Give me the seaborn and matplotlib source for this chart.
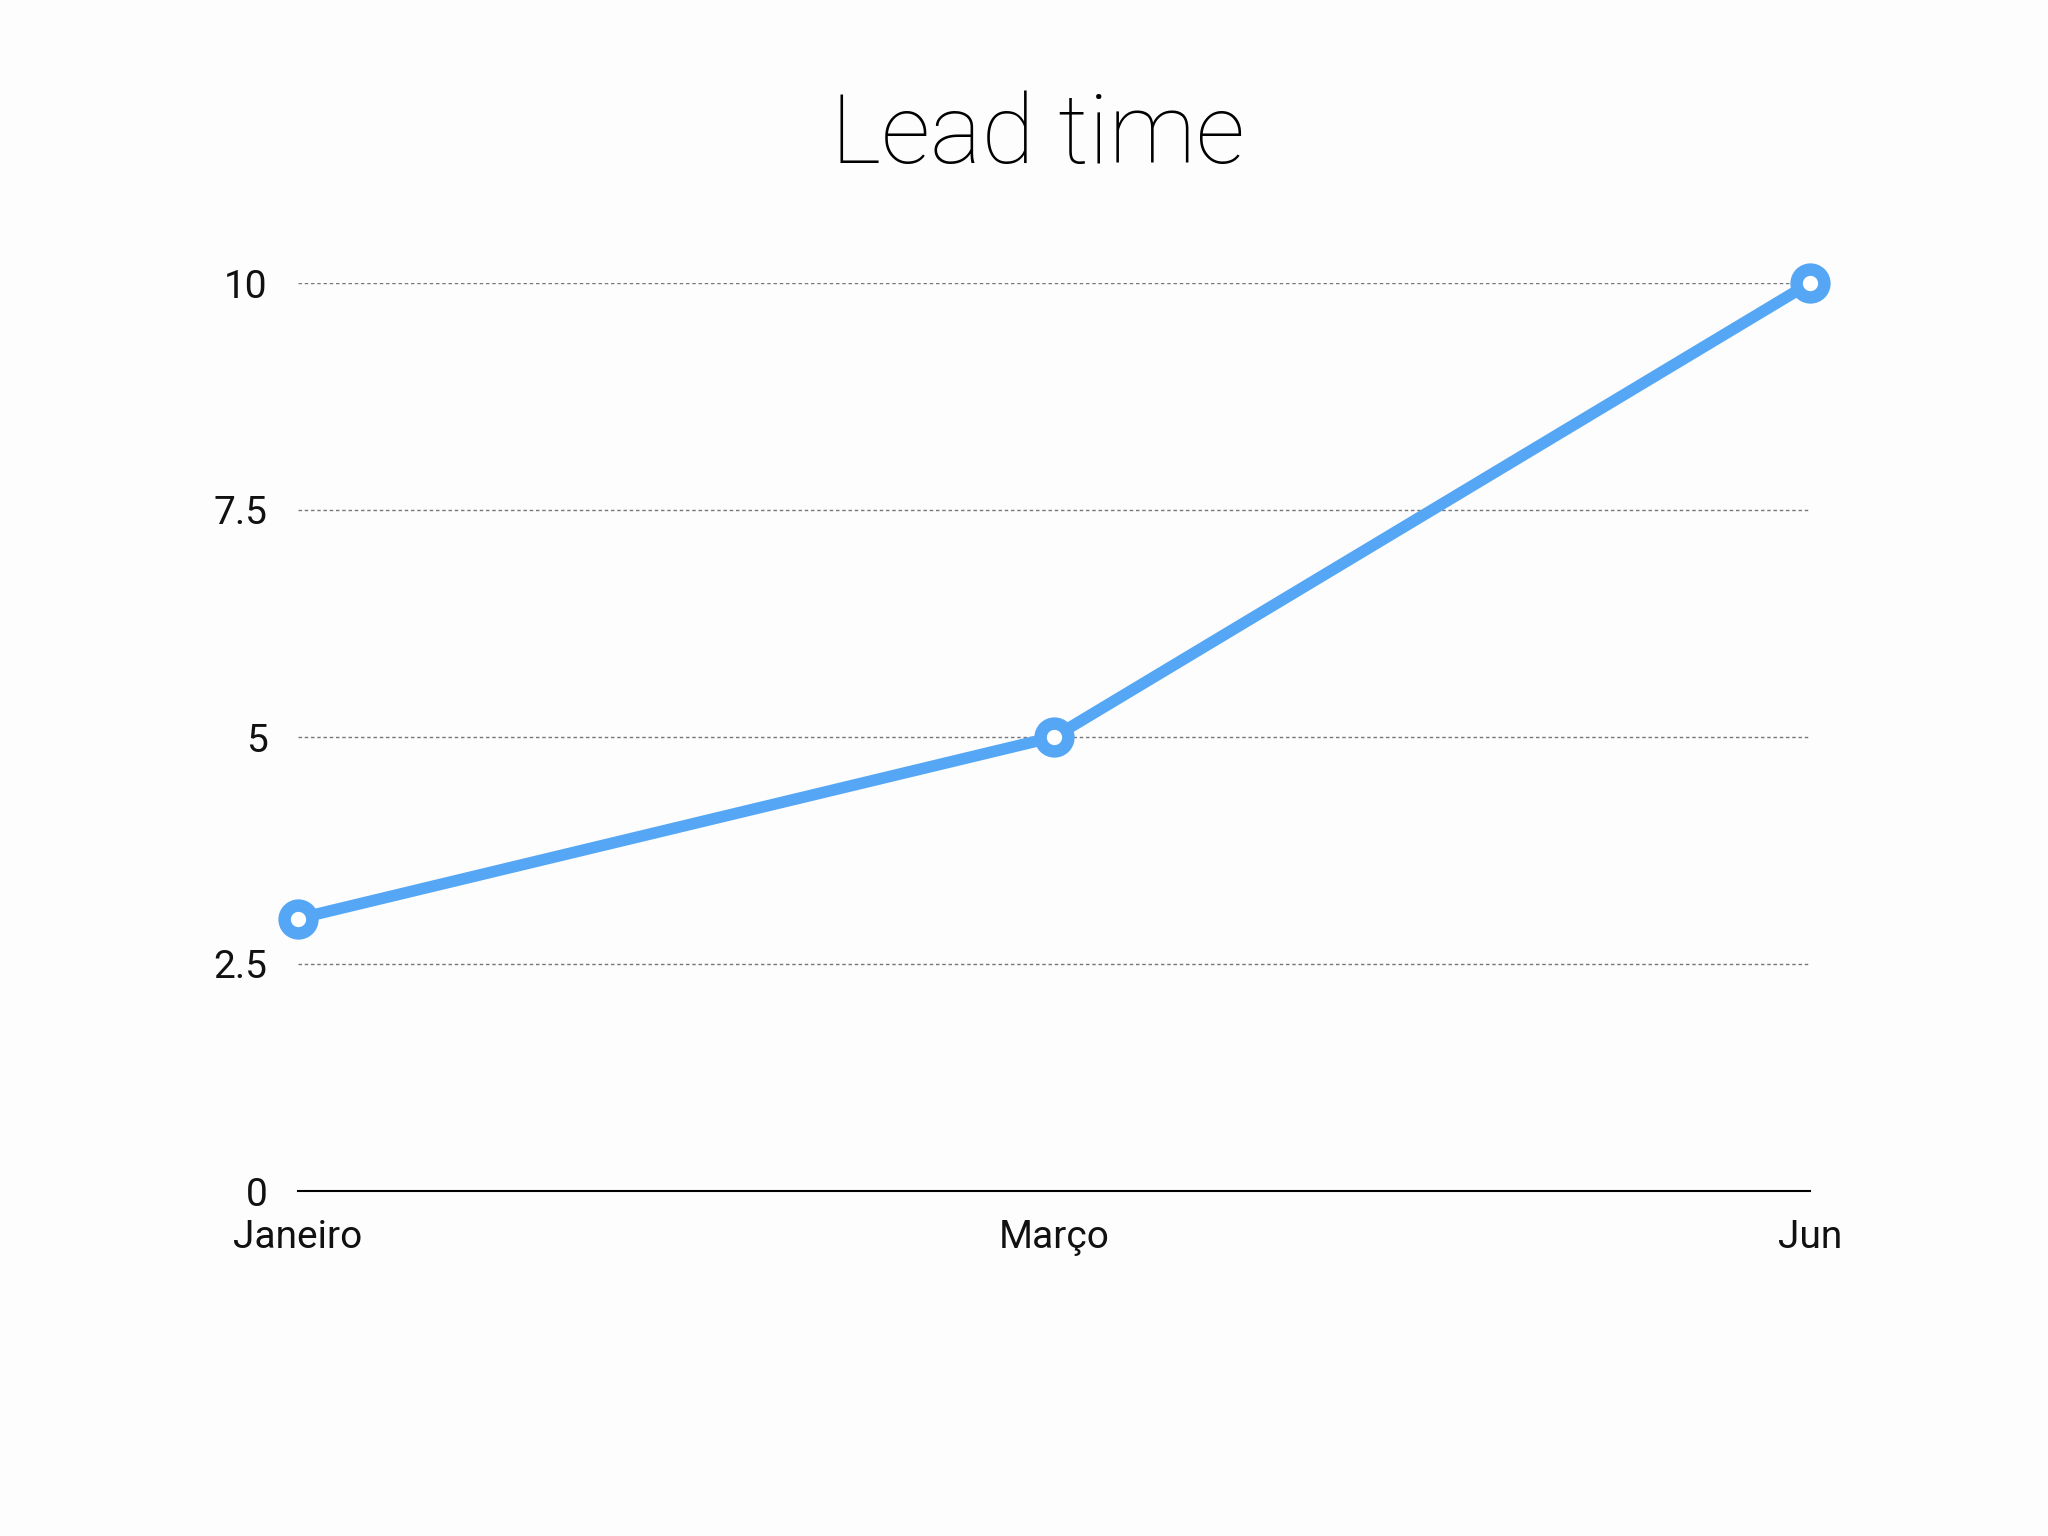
import matplotlib
matplotlib.use("Agg")
import matplotlib.pyplot as plt
import seaborn as sns
import pandas as pd

months = ["Janeiro", "Março", "Jun"]
lead_time = [3, 5, 10]
y_ticks = [0, 2.5, 5, 7.5, 10]
y_tick_labels = ["0", "2.5", "5", "7.5", "10"]

sns.set_theme(style="white")
plt.rcParams['font.family'] = ['Roboto', 'DejaVu Sans']

df = pd.DataFrame({"month": months, "lead_time": lead_time})

fig = plt.figure(figsize=(20.48, 15.36), dpi=100, facecolor="#fdfdfd")
ax = fig.add_axes([298/2048, 1 - 1191/1536, (1810-298)/2048, (1191-283)/1536])
ax.set_facecolor("#fdfdfd")

color = "#55A7F5"
sns.lineplot(data=df, x="month", y="lead_time", ax=ax, color=color,
             linewidth=8.3, marker="o", markersize=20, markeredgewidth=9,
             markeredgecolor=color, markerfacecolor="white", clip_on=False,
             zorder=5)

ax.set_xlim(0, 2)
ax.set_ylim(0, 10)
ax.set_yticks(y_ticks)
ax.set_yticklabels(y_tick_labels)
ax.set_xlabel("")
ax.set_ylabel("")

for s in ["top", "right", "left"]:
    ax.spines[s].set_visible(False)
ax.spines["bottom"].set_color("black")
ax.spines["bottom"].set_linewidth(1.5)

ax.yaxis.grid(True, linestyle=(0, (2.5, 2)), color="#777777", linewidth=1.0)
ax.xaxis.grid(False)
ax.set_axisbelow(True)

ax.tick_params(axis="y", length=0, pad=22, labelsize=28, labelcolor="#111111")
ax.tick_params(axis="x", length=0, pad=20, labelsize=28, labelcolor="#111111")
for lab in ax.get_xticklabels() + ax.get_yticklabels():
    lab.set_fontweight("normal")

fig.text(1038/2048, 1 - 137/1536, "Lead time", ha="center", va="center",
         fontsize=70, fontweight="light", color="#000000")

fig.savefig("out.png", dpi=100, facecolor=fig.get_facecolor())
